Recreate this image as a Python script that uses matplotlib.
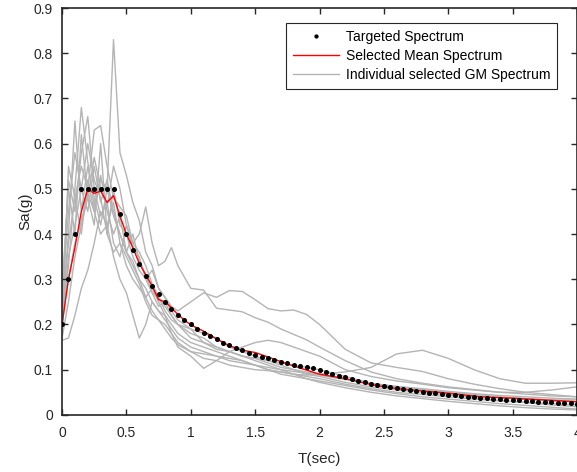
import matplotlib
matplotlib.use('Agg')
import matplotlib.pyplot as plt

plt.rcParams['font.family'] = ['Liberation Sans', 'DejaVu Sans']

# target (design) spectrum, every 0.05 s
T_target = [round(0.05 * i, 2) for i in range(81)]
Sa_target = [0.200, 0.300, 0.400, 0.500, 0.500, 0.500, 0.500, 0.500, 0.500, 0.444,
             0.400, 0.364, 0.333, 0.308, 0.286, 0.267, 0.250, 0.235, 0.222, 0.211,
             0.200, 0.190, 0.182, 0.174, 0.167, 0.160, 0.154, 0.148, 0.143, 0.138,
             0.133, 0.129, 0.125, 0.121, 0.118, 0.114, 0.111, 0.108, 0.105, 0.103,
             0.100, 0.095, 0.091, 0.087, 0.083, 0.079, 0.076, 0.072, 0.069, 0.067,
             0.064, 0.062, 0.059, 0.057, 0.055, 0.053, 0.051, 0.049, 0.048, 0.046,
             0.044, 0.043, 0.042, 0.040, 0.039, 0.038, 0.037, 0.036, 0.035, 0.034,
             0.033, 0.032, 0.031, 0.030, 0.029, 0.028, 0.028, 0.027, 0.026, 0.026,
             0.025]

# mean of the selected records
T_mean = [0, 0.05, 0.1, 0.15, 0.2, 0.25, 0.3, 0.35, 0.4, 0.45, 0.5, 0.55, 0.6, 0.65,
          0.7, 0.75, 0.8, 0.85, 0.9, 0.95, 1.0, 1.1, 1.2, 1.3, 1.4, 1.5, 1.6, 1.7,
          1.8, 1.9, 2.0, 2.2, 2.4, 2.6, 2.8, 3.0, 3.25, 3.5, 3.75, 4.0]
Sa_mean = [0.20, 0.30, 0.37, 0.45, 0.50, 0.49, 0.495, 0.47, 0.485, 0.44, 0.40, 0.37,
           0.335, 0.31, 0.285, 0.255, 0.25, 0.237, 0.222, 0.21, 0.199, 0.185, 0.168,
           0.153, 0.143, 0.138, 0.128, 0.118, 0.108, 0.099, 0.09, 0.08, 0.067, 0.058,
           0.053, 0.048, 0.04, 0.037, 0.033, 0.029]

# individual ground motion spectra
T_gm = [0, 0.05, 0.1, 0.15, 0.2, 0.25, 0.3, 0.35, 0.4, 0.45, 0.5, 0.55, 0.6, 0.65,
        0.7, 0.75, 0.8, 0.85, 0.9, 1.0, 1.1, 1.2, 1.3, 1.4, 1.5, 1.6, 1.7, 1.8, 1.9,
        2.0, 2.2, 2.4, 2.6, 2.8, 3.0, 3.2, 3.4, 3.6, 3.8, 4.0]
gm1 = [0.22, 0.40, 0.65, 0.45, 0.55, 0.48, 0.42, 0.50, 0.44, 0.40, 0.36, 0.33, 0.30, 0.28,
       0.25, 0.23, 0.22, 0.20, 0.18, 0.16, 0.15, 0.14, 0.13, 0.12, 0.11, 0.10, 0.095, 0.09,
       0.085, 0.08, 0.068, 0.058, 0.05, 0.045, 0.04, 0.035, 0.031, 0.028, 0.025, 0.022]
gm2 = [0.19, 0.33, 0.50, 0.68, 0.56, 0.46, 0.53, 0.45, 0.40, 0.44, 0.36, 0.40, 0.34, 0.31,
       0.27, 0.24, 0.25, 0.22, 0.20, 0.18, 0.17, 0.15, 0.14, 0.13, 0.125, 0.115, 0.105, 0.10,
       0.09, 0.085, 0.072, 0.062, 0.055, 0.05, 0.044, 0.038, 0.032, 0.027, 0.022, 0.018]
gm3 = [0.25, 0.52, 0.45, 0.58, 0.66, 0.50, 0.44, 0.47, 0.38, 0.35, 0.42, 0.37, 0.35, 0.30,
       0.32, 0.28, 0.26, 0.24, 0.23, 0.25, 0.27, 0.26, 0.275, 0.273, 0.255, 0.235, 0.23, 0.232,
       0.222, 0.20, 0.145, 0.115, 0.105, 0.096, 0.08, 0.068, 0.058, 0.05, 0.045, 0.04]
gm4 = [0.21, 0.30, 0.38, 0.43, 0.49, 0.45, 0.52, 0.50, 0.83, 0.58, 0.53, 0.47, 0.43, 0.36,
       0.33, 0.28, 0.26, 0.23, 0.21, 0.19, 0.16, 0.15, 0.14, 0.13, 0.125, 0.12, 0.11, 0.10,
       0.095, 0.09, 0.08, 0.07, 0.06, 0.053, 0.047, 0.042, 0.038, 0.034, 0.031, 0.029]
gm5 = [0.23, 0.38, 0.48, 0.55, 0.50, 0.63, 0.64, 0.55, 0.48, 0.46, 0.44, 0.38, 0.40, 0.46,
       0.38, 0.33, 0.34, 0.37, 0.33, 0.28, 0.276, 0.236, 0.232, 0.228, 0.215, 0.205, 0.19, 0.178,
       0.166, 0.15, 0.12, 0.095, 0.08, 0.07, 0.062, 0.056, 0.05, 0.046, 0.042, 0.04]
gm6 = [0.18, 0.55, 0.48, 0.40, 0.52, 0.45, 0.40, 0.42, 0.35, 0.30, 0.27, 0.22, 0.17, 0.20,
       0.25, 0.23, 0.21, 0.19, 0.17, 0.15, 0.14, 0.13, 0.125, 0.12, 0.11, 0.10, 0.09, 0.085,
       0.08, 0.075, 0.065, 0.055, 0.047, 0.04, 0.035, 0.03, 0.025, 0.021, 0.017, 0.013]
gm7 = [0.165, 0.17, 0.22, 0.28, 0.32, 0.38, 0.45, 0.42, 0.47, 0.38, 0.33, 0.30, 0.28, 0.26,
       0.23, 0.21, 0.20, 0.18, 0.16, 0.14, 0.125, 0.12, 0.11, 0.105, 0.10, 0.098, 0.095, 0.09,
       0.088, 0.09, 0.095, 0.105, 0.135, 0.143, 0.125, 0.10, 0.08, 0.07, 0.07, 0.071]
gm8 = [0.20, 0.35, 0.42, 0.50, 0.45, 0.55, 0.47, 0.52, 0.45, 0.40, 0.36, 0.34, 0.30, 0.26,
       0.28, 0.25, 0.22, 0.18, 0.15, 0.13, 0.103, 0.12, 0.14, 0.15, 0.16, 0.165, 0.16, 0.15,
       0.14, 0.13, 0.10, 0.085, 0.075, 0.068, 0.06, 0.055, 0.05, 0.05, 0.055, 0.062]
gm9 = [0.26, 0.45, 0.58, 0.50, 0.60, 0.52, 0.48, 0.40, 0.50, 0.42, 0.40, 0.35, 0.32, 0.30,
       0.27, 0.26, 0.23, 0.21, 0.20, 0.17, 0.16, 0.145, 0.14, 0.13, 0.12, 0.11, 0.10, 0.09,
       0.08, 0.072, 0.06, 0.05, 0.042, 0.036, 0.03, 0.025, 0.02, 0.016, 0.013, 0.011]
gm10 = [0.17, 0.25, 0.35, 0.42, 0.48, 0.57, 0.50, 0.46, 0.55, 0.50, 0.42, 0.38, 0.36, 0.33,
        0.29, 0.26, 0.24, 0.22, 0.20, 0.19, 0.18, 0.17, 0.15, 0.14, 0.13, 0.12, 0.115, 0.11,
        0.105, 0.10, 0.085, 0.07, 0.062, 0.056, 0.05, 0.045, 0.04, 0.036, 0.033, 0.033]
gm11 = [0.28, 0.50, 0.40, 0.62, 0.48, 0.42, 0.60, 0.40, 0.36, 0.38, 0.35, 0.32, 0.29, 0.25,
        0.22, 0.21, 0.19, 0.17, 0.155, 0.14, 0.135, 0.13, 0.12, 0.115, 0.11, 0.105, 0.10, 0.096,
        0.092, 0.088, 0.078, 0.07, 0.063, 0.058, 0.052, 0.047, 0.043, 0.04, 0.037, 0.035]
records = [gm1, gm2, gm3, gm4, gm5, gm6, gm7, gm8, gm9, gm10, gm11]

fig = plt.figure(figsize=(5.77, 4.72), dpi=100)
ax = fig.add_axes([0.1075, 0.121, 0.8925, 0.862])

gray = '#b4b4b4'
for i, sa in enumerate(records):
    ax.plot(T_gm, sa, color=gray, lw=1.0, zorder=1,
            label='Individual selected GM Spectrum' if i == 0 else None)
ax.plot(T_mean, Sa_mean, color='red', lw=1.0, zorder=2, label='Selected Mean Spectrum')
ax.plot(T_target, Sa_target, 'o', color='black', ms=2.6, zorder=3, label='Targeted Spectrum')

ax.set_xlim(0, 4)
ax.set_ylim(0, 0.9)
ax.set_xticks([0, 0.5, 1, 1.5, 2, 2.5, 3, 3.5, 4])
ax.set_xticklabels(['0', '0.5', '1', '1.5', '2', '2.5', '3', '3.5', '4'])
ax.set_yticks([0, 0.1, 0.2, 0.3, 0.4, 0.5, 0.6, 0.7, 0.8, 0.9])
ax.set_yticklabels(['0', '0.1', '0.2', '0.3', '0.4', '0.5', '0.6', '0.7', '0.8', '0.9'])
ax.tick_params(direction='in', top=True, right=True, length=4, width=1,
               labelsize=10, colors='#262626')
ax.tick_params(axis='x', pad=8)
ax.tick_params(axis='y', pad=6.5)
for s in ax.spines.values():
    s.set_color('#262626')
    s.set_linewidth(1.2)

ax.set_xlabel('T(sec)', fontsize=11, color='#262626', labelpad=9)
ax.set_ylabel('Sa(g)', fontsize=11, color='#262626', labelpad=1)

h, l = ax.get_legend_handles_labels()
order = [2, 1, 0]
leg = ax.legend([h[k] for k in order], [l[k] for k in order], loc='upper right',
                bbox_to_anchor=(0.975, 0.98), fontsize=10, handlelength=3.3,
                fancybox=False, framealpha=1, edgecolor='#262626',
                borderpad=0.5, labelspacing=0.35, handletextpad=0.5, markerscale=0.8)
leg.get_frame().set_linewidth(0.8)

plt.savefig('out.png', dpi=100)
